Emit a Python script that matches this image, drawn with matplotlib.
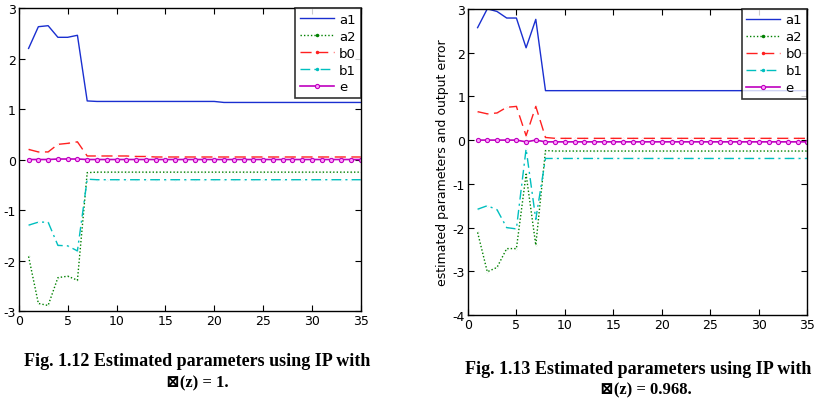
import matplotlib
matplotlib.use("Agg")
import matplotlib.pyplot as plt
import numpy as np

# ---------------- data ----------------
x = list(range(1, 36))

# Fig 1.12 (left)
a1_L = [2.20, 2.63, 2.65, 2.42, 2.42, 2.46, 1.16] + [1.15] * 13 + [1.13] * 15
a2_L = [-1.92, -2.85, -2.89, -2.34, -2.31, -2.39, -0.26] + [-0.25] * 28
b0_L = [0.20, 0.15, 0.15, 0.30, 0.32, 0.35, 0.07, 0.07, 0.07, 0.07, 0.07, 0.06, 0.06] + [0.05] * 22
b1_L = [-1.30, -1.24, -1.24, -1.70, -1.71, -1.81, -0.39] + [-0.40] * 28
e_L = [0.0, 0.0, 0.0, 0.01, 0.01, 0.01] + [0.0] * 29

# Fig 1.13 (right)
a1_R = [2.57, 3.00, 2.94, 2.79, 2.79, 2.11, 2.76, 1.13] + [1.13] * 27
a2_R = [-2.11, -3.01, -2.91, -2.48, -2.48, -0.78, -2.40, -0.24] + [-0.25] * 27
b0_R = [0.65, 0.60, 0.62, 0.75, 0.77, 0.10, 0.77, 0.06] + [0.04] * 27
b1_R = [-1.58, -1.50, -1.59, -2.00, -2.03, -0.20, -1.81, -0.42] + [-0.42] * 27
e_R = [0.0, 0.0, 0.0, 0.0, 0.0, -0.04, 0.0] + [-0.04] * 28

labels = ["a1", "a2", "b0", "b1", "e"]
xticks = [0, 5, 10, 15, 20, 25, 30, 35]

captions = [("Fig. 1.12 Estimated parameters using IP with", "\u22a0(z) = 1."),
            ("Fig. 1.13 Estimated parameters using IP with", "\u22a0(z) = 0.968.")]

# ---------------- figure ----------------
fig = plt.figure(figsize=(8.18, 4.10), dpi=100)
fig.patch.set_facecolor("white")
plt.rcParams['font.family'] = ['Liberation Sans Narrow', 'DejaVu Sans']
plt.rcParams['axes.unicode_minus'] = False

axL = fig.add_axes([0.023, 0.239, 0.418, 0.739])
axR = fig.add_axes([0.572, 0.229, 0.415, 0.747])

def draw(ax, a1, a2, b0, b1, e, ylim, yticks):
    ax.plot(x, a1, color="#1a2fd0", lw=1.0, label=labels[0])
    ax.plot(x, a2, color="#008000", lw=1.0, ls=(0, (1, 1.5)), marker=".", ms=0.1, label=labels[1])
    ax.plot(x, b0, color="#ff2020", lw=1.0, ls=(0, (8, 4)), marker=".", ms=0.1, label=labels[2])
    ax.plot(x, b1, color="#00bfbf", lw=1.0, ls=(0, (7, 3, 1.5, 3)), marker=".", ms=0.1, label=labels[3])
    ax.plot(x, e, color="#bf00bf", lw=1.2, marker="o", ms=3.0, mfc="#ff9fff", mec="#bf00bf", mew=0.8, label=labels[4])
    ax.set_xlim(0, 35)
    ax.set_ylim(*ylim)
    ax.set_xticks(xticks)
    ax.set_yticks(yticks)
    ax.tick_params(direction="in", top=True, right=True, labelsize=9, length=4, pad=2)
    for s in ax.spines.values():
        s.set_linewidth(1.0)
        s.set_color("black")
    leg = ax.legend(loc="upper right", numpoints=1, fontsize=9.5, frameon=True, fancybox=False,
                    borderaxespad=0, handlelength=2.6, labelspacing=0.3, borderpad=0.35,
                    handletextpad=0.4, markerscale=1)
    leg.get_frame().set_edgecolor("black")
    leg.get_frame().set_linewidth(1.2)
    for h in leg.legend_handles[1:4]:
        h.set_markersize(3)

draw(axL, a1_L, a2_L, b0_L, b1_L, e_L, (-3, 3), [-3, -2, -1, 0, 1, 2, 3])
draw(axR, a1_R, a2_R, b0_R, b1_R, e_R, (-4, 3), [-4, -3, -2, -1, 0, 1, 2, 3])
axR.set_ylabel("estimated parameters and output error", fontsize=9, labelpad=3)

serif = ['Liberation Serif', 'DejaVu Serif']
fig.text(0.241, 1 - 362 / 410, captions[0][0], ha="center", va="center", fontsize=13,
         fontweight="bold", family=serif)
fig.text(0.241, 1 - 383 / 410, captions[0][1], ha="center", va="center", fontsize=12,
         fontweight="bold", family=serif)
fig.text(0.569, 1 - 370 / 410, captions[1][0], ha="left", va="center", fontsize=13,
         fontweight="bold", family=serif)
fig.text(0.789, 1 - 390 / 410, captions[1][1], ha="center", va="center", fontsize=12,
         fontweight="bold", family=serif)

fig.savefig("out.png", dpi=100, facecolor="white")
